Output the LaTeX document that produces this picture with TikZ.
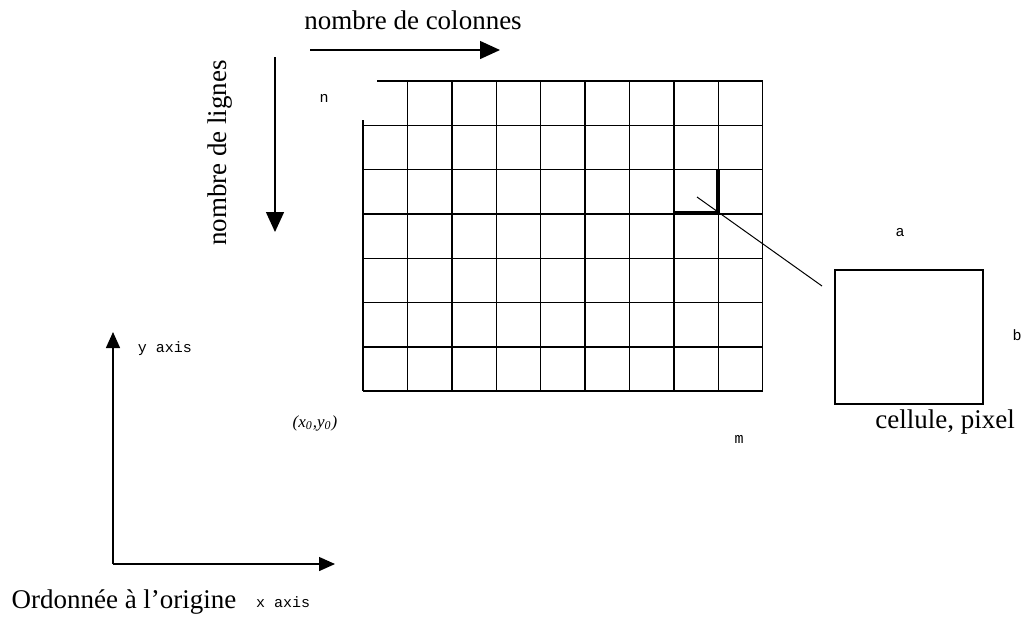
\documentclass[tikz,border=0pt]{standalone}
\usepackage{fontspec}
\setmainfont{Liberation Serif}
\setmonofont{Liberation Mono}
\usetikzlibrary{arrows.meta}

\tikzset{
  bigtxt/.style={font=\fontsize{13.5}{16}\selectfont},
  smalltxt/.style={font=\ttfamily\fontsize{7.5}{9}\selectfont},
  gridline/.style={line width=0.7pt},
  bigtip/.style={-{Triangle[length=10pt,width=9pt]}},
  axistip/.style={-{Triangle[length=8pt,width=7pt]}}
}

\begin{document}
\begin{tikzpicture}[x=0.5pt,y=-0.5pt,line width=0.7pt]
\useasboundingbox (0,0) rectangle (1026,618);

% direction arrows
\node[bigtxt] (cols) at (413,20) {nombre de colonnes};
\coordinate (colA) at (310,50);
\coordinate (colB) at (500,50);
\draw[bigtip] (colA) -- (colB);

\node[bigtxt,rotate=90] (rows) at (220,153) {nombre de lignes};
\coordinate (rowA) at (275,57);
\coordinate (rowB) at (275,232);
\draw[bigtip] (rowA) -- (rowB);

% grid of cells
\begin{scope}[gridline]
\draw (377,81) -- (763,81);
\foreach \j in {1,...,7}
    \draw (363,81+44.3*\j) -- (763,81+44.3*\j);
\draw (363,120) -- (363,391);
\foreach \i in {1,...,9}
    \draw (363+44.4*\i,81) -- (363+44.4*\i,391);
\end{scope}
\draw[line width=1.6pt] (674,213) -- (718,213) -- (718,169);

\node[smalltxt] (n) at (324,98) {n};
\node[smalltxt] (m) at (739,439) {m};
\node[font=\itshape\fontsize{8.5}{10}\selectfont] (orig) at (315,423) {(x\textsubscript{0},y\textsubscript{0})};

% one cell enlarged
\node[draw,minimum width=74pt,minimum height=67pt,inner sep=0pt] (cell) at (909,337) {};
\coordinate (hl) at (697,197);
\coordinate (lk) at (822,286);
\draw[line width=0.5pt] (hl) -- (lk);
\node[smalltxt] (a) at (900,233) {a};
\node[smalltxt] (b) at (1017,335) {b};
\node[bigtxt] (pix) at (945,422) {cellule, pixel};

% axes
\coordinate (O) at (113,564);
\coordinate (Y) at (113,332);
\coordinate (X) at (335,564);
\draw[axistip] (O) -- (Y);
\draw[axistip] (O) -- (X);
\node[smalltxt] (ylab) at (165,349) {y axis};
\node[smalltxt] (xlab) at (283,602) {x axis};
\node[bigtxt] (ord) at (124,602) {Ordonnée à l’origine};
\end{tikzpicture}
\end{document}
